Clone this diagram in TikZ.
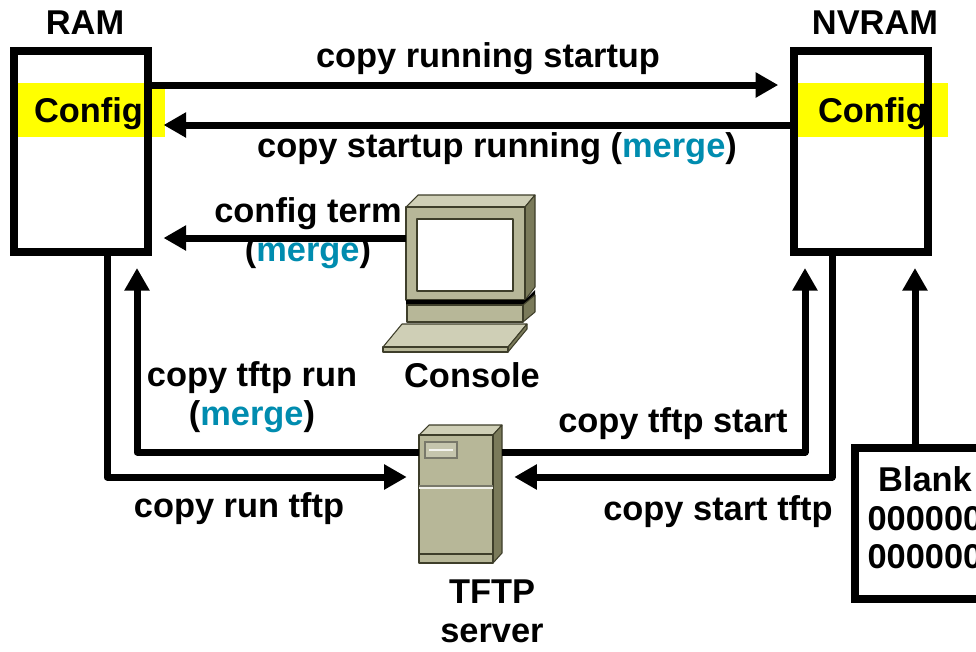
\documentclass[tikz,border=0pt]{standalone}
\usepackage{fontspec}
\setmainfont{Liberation Sans}
\usetikzlibrary{arrows.meta,positioning}

\definecolor{mergeblue}{RGB}{0,140,175}
\definecolor{cfgyellow}{RGB}{255,255,0}
\definecolor{icnface}{RGB}{183,183,152}
\definecolor{icntop}{RGB}{207,207,182}
\definecolor{icnside}{RGB}{122,122,90}
\definecolor{icnline}{RGB}{62,62,42}

\tikzset{
  membox/.style={draw, line width=6pt, minimum width=100.5pt, minimum height=150.75pt, inner sep=0pt},
  lbl/.style={font=\fontsize{25.8}{29}\selectfont\bfseries, inner sep=0pt},
  wire/.style={line width=5.25pt, line join=round},
  arr/.style={wire, -{Triangle[length=17pt,width=18pt]}, shorten >=9pt},
  icn/.style={draw=icnline, line width=0.8pt, line join=round},
}
\newcommand{\mrg}{(\textcolor{mergeblue}{merge})}

\begin{document}
\begin{tikzpicture}[x=0.75pt,y=0.75pt,yscale=-1,xscale=1]
\clip (0,0) rectangle (976,651);

% Config bands
\fill[cfgyellow] (17,83) rectangle (165,137);
\fill[cfgyellow] (798,83) rectangle (948,137);
\node[lbl, anchor=base] (ramcfg) at (88.5,122) {Config};
\node[lbl, anchor=base] (nvcfg) at (872.5,122) {Config};

% Memories
\node[membox] (ram) at (80.5,151.5) {};
\node[membox] (nvram) at (861.25,151.5) {};
\node[lbl, anchor=base] (ramlbl) at (85,34) {RAM};
\node[lbl, anchor=base] (nvlbl) at (875,34) {NVRAM};

% Blank memory
\node[membox, minimum width=101.25pt, minimum height=113.25pt] (blank) at (922.75,523.5) {};
\node[lbl, align=center] (blanktxt) at (925,518) {Blank\\000000\\000000};

% Console: monitor
\filldraw[icn, fill=icntop] (406,207) -- (418,195) -- (535,195) -- (525,207) -- cycle;
\filldraw[icn, fill=icnside] (525,207) -- (535,195) -- (535,287) -- (525,300) -- cycle;
\filldraw[icn, fill=icnface] (406,207) rectangle (525,300);
\filldraw[icn, fill=white] (417,219) rectangle (513,291);
% Console: base
\fill[black] (406,300) -- (525,300) -- (535,290) -- (535,295) -- (523,305) -- (406,305) -- cycle;
\filldraw[icn, fill=icnside] (523,305) -- (535,295) -- (535,312) -- (523,322) -- cycle;
\filldraw[icn, fill=icnface] (407,305) rectangle (523,322);
% Console: keyboard
\filldraw[icn, fill=icntop] (402,324) -- (527,324) -- (508,347) -- (383,347) -- cycle;
\filldraw[icn, fill=icnside] (508,347) -- (527,324) -- (527,329) -- (508,352) -- cycle;
\filldraw[icn, fill=icnface] (383,347) rectangle (508,352);
\node[inner sep=0pt, minimum width=89.25pt, minimum height=69.75pt] (console) at (465.5,253.5) {};
\node[lbl, anchor=base] (conlbl) at (472,387) {Console};

% TFTP server
\filldraw[icn, fill=icntop] (419,435) -- (429,425) -- (502,425) -- (493,435) -- cycle;
\filldraw[icn, fill=icnside] (493,435) -- (502,425) -- (502,553) -- (493,563) -- cycle;
\filldraw[icn, fill=icnface] (419,435) rectangle (493,563);
\filldraw[draw=icnline!70, line width=0.8pt, fill=icnface!80!white] (425,442) rectangle (457,458);
\draw[white!85!icnface, line width=1pt] (429,450) -- (453,450);
\draw[icnline!70, line width=0.8pt] (419,486) -- (493,486);
\draw[white!80!icnface, line width=1pt] (419,488) -- (493,488);
\draw[icn] (419,554) -- (493,554);
\node[inner sep=0pt, minimum width=62.25pt, minimum height=103.5pt] (tftp) at (460.5,494) {};
\node[lbl, align=center] (tftplbl) at (492,611) {TFTP\\server};

% Command labels
\node[lbl, anchor=base] (cprs) at (488,67) {copy running startup};
\node[lbl, anchor=base] (cpsr) at (497,157) {copy startup running \mrg};
\node[lbl, anchor=base] (cfgt) at (308,222) {config term};
\node[lbl, anchor=base] (cfgm) at (308,261) {\mrg};
\node[lbl, align=center] (cptr) at (252,397) {copy tftp run\\\mrg};
\node[lbl, anchor=base] (cprt) at (239,517) {copy run tftp};
\node[lbl, anchor=base] (cpts) at (673,432) {copy tftp start};
\node[lbl, anchor=base] (cpst) at (718,520) {copy start tftp};

% Rows and columns of the wires
\coordinate (rowA) at (0,85);
\coordinate (rowB) at (0,125);
\coordinate (rowC) at (0,238);
\coordinate (rowD) at (0,452);
\coordinate (rowE) at (0,477);
\coordinate (colA) at (107,0);
\coordinate (colB) at (137,0);
\coordinate (colC) at (805,0);
\coordinate (colD) at (832,0);
\coordinate (colE) at (915,0);

% Copy commands
\draw[arr] (ram.east |- rowA) -- (nvram.west |- rowA);
\draw[arr] (nvram.west |- rowB) -- (ram.east |- rowB);
\draw[arr] (console.west |- rowC) -- (ram.east |- rowC);
\draw[arr] (ram.south -| colA) -- (colA |- rowE) -- (tftp.west |- rowE);
\draw[arr] (tftp.west |- rowD) -- (colB |- rowD) -- (ram.south -| colB);
\draw[arr] (tftp.east |- rowD) -- (colC |- rowD) -- (nvram.south -| colC);
\draw[arr] (nvram.south -| colD) -- (colD |- rowE) -- (tftp.east |- rowE);
\draw[arr] (blank.north -| colE) -- (nvram.south -| colE);

\end{tikzpicture}
\end{document}
